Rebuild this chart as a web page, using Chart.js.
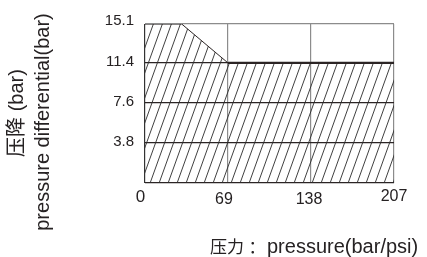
<!DOCTYPE html>
<html><head><meta charset="utf-8">
<script src="https://cdn.jsdelivr.net/npm/chart.js@4/dist/chart.umd.min.js"></script>
<style>html,body{margin:0;padding:0;background:#fff;}#wrap{width:427px;height:257px;}</style>
</head><body><div id="wrap"><canvas id="c" width="427" height="257"></canvas></div>
<script>
const pressureX = [0, 30.5, 69, 207];
const pressureDrop = [15.1, 15.1, 11.4, 11.4];
const xTickValues = [0, 69, 138, 207];
const xTickLabels = ['0', '69', '138', '207'];
const yTickValues = [3.8, 7.6, 11.4, 15.1];
const yTickLabels = ['3.8', '7.6', '11.4', '15.1'];
const yTitle1 = '压降 (bar)';
const yTitle2 = 'pressure differential(bar)';
const xTitleCn = '压力';
const xTitleColon = '：';
const xTitleEn = 'pressure(bar/psi)';

const TXT = '#262223';
function makeHatch(){
  const w = 9, h = 25;
  const c = document.createElement('canvas'); c.width = w; c.height = h;
  const g = c.getContext('2d');
  g.strokeStyle = '#2b2b2b'; g.lineWidth = 0.9;
  for (const off of [-w, 0, w]) {
    g.beginPath(); g.moveTo(off, h); g.lineTo(off + w, 0); g.stroke();
  }
  return g.createPattern(c, 'repeat');
}

const labelPlugin = {
  id: 'labels',
  afterDraw(chart){
    const ctx = chart.ctx, xs = chart.scales.x, ys = chart.scales.y;
    ctx.save();
    ctx.fillStyle = TXT;
    ctx.textBaseline = 'middle';
    // y tick labels
    ctx.textAlign = 'right';
    ctx.font = '15px "Liberation Sans", Arial, sans-serif';
    yTickValues.forEach((v, i) => {
      const dy = v === 15.1 ? -3 : -1;
      ctx.fillText(yTickLabels[i], 134, ys.getPixelForValue(v) + dy);
    });
    // x tick labels
    ctx.textAlign = 'center';
    const xoff = [-4.5, -4, -2, 0], yoff = [197, 200, 200, 197];
    xTickValues.forEach((v, i) => {
      ctx.font = (i === 0 ? '17px' : '16px') + ' "Liberation Sans", Arial, sans-serif';
      ctx.fillText(xTickLabels[i], xs.getPixelForValue(v) + xoff[i], yoff[i]);
    });
    // x title
    ctx.textBaseline = 'alphabetic';
    ctx.textAlign = 'left';
    ctx.font = '17px "Noto Sans CJK SC", sans-serif';
    ctx.fillText(xTitleCn, 210, 253);
    ctx.textAlign = 'center';
    ctx.fillText(xTitleColon, 257, 253);
    ctx.textAlign = 'left';
    ctx.font = '20px "Liberation Sans", Arial, sans-serif';
    ctx.fillText(xTitleEn, 267, 253);
    // y titles
    ctx.textBaseline = 'middle';
    ctx.textAlign = 'center';
    ctx.save(); ctx.translate(17, 113); ctx.rotate(-Math.PI / 2);
    ctx.font = '20px "Liberation Sans", "Noto Sans CJK SC", sans-serif';
    ctx.fillText(yTitle1, 0, 0); ctx.restore();
    ctx.save(); ctx.translate(43, 122); ctx.rotate(-Math.PI / 2);
    ctx.font = '20px "Liberation Sans", Arial, sans-serif';
    ctx.fillText(yTitle2, 0, 0); ctx.restore();
    ctx.restore();
  }
};

new Chart(document.getElementById('c'), {
  type: 'line',
  data: {
    datasets: [{
      data: pressureX.map((x, i) => ({x, y: pressureDrop[i]})),
      borderColor: '#2b2424',
      borderWidth: 1,
      segment: { borderWidth: s => s.p0DataIndex === 2 ? 2.2 : 1 },
      backgroundColor: makeHatch(),
      fill: 'origin',
      pointRadius: 0,
      tension: 0
    }]
  },
  options: {
    responsive: false,
    animation: false,
    devicePixelRatio: 1,
    layout: { padding: { left: 145, right: 33, top: 24, bottom: 74 } },
    plugins: { legend: { display: false }, tooltip: { enabled: false } },
    scales: {
      x: {
        type: 'linear', min: 0, max: 207,
        afterBuildTicks: s => { s.ticks = xTickValues.map(v => ({value: v})); },
        afterFit: s => { s.height = 0; },
        ticks: { display: false },
        border: { display: false },
        grid: { drawTicks: false, lineWidth: 1.2, color: c => c.tick && c.tick.value === 0 ? '#333' : '#8c8c8c' }
      },
      y: {
        type: 'linear', min: 0, max: 15.1,
        afterBuildTicks: s => { s.ticks = [0].concat(yTickValues).map(v => ({value: v})); },
        afterFit: s => { s.width = 0; },
        ticks: { display: false },
        border: { display: false },
        grid: { drawTicks: false, lineWidth: 1.2, color: c => c.tick && c.tick.value === 15.1 ? '#8c8c8c' : '#2b2424' }
      }
    }
  },
  plugins: [labelPlugin]
});
</script>
</body></html>
